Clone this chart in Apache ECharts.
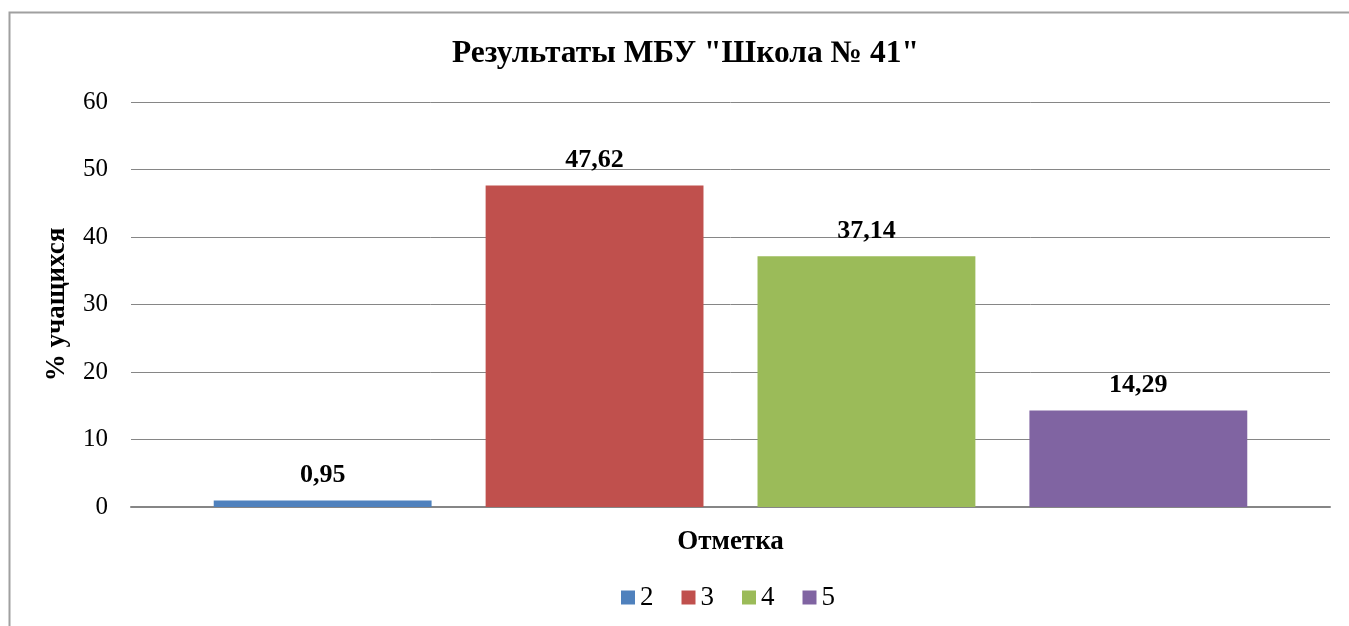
<!DOCTYPE html>
<html><head><meta charset="utf-8">
<script src="https://cdn.jsdelivr.net/npm/echarts@6/dist/echarts.min.js"></script>
<style>html,body{margin:0;padding:0;background:#fff;}#c{width:1349px;height:626px;}</style>
</head><body><div id="c"></div>
<script>
const categories = [''];
const seriesNames = ['2', '3', '4', '5'];
const seriesValues = [[0.95], [47.62], [37.14], [14.29]];
const seriesColors = ['#4F81BD', '#C0504D', '#9BBB59', '#8064A2'];
const yTicks = {min: 0, max: 60, interval: 10};

const font = 'Liberation Serif, Times New Roman, serif';
const chart = echarts.init(document.getElementById('c'));
chart.setOption({
  backgroundColor: '#fff',
  animation: false,
  graphic: [{type: 'rect', shape: {x: 9.5, y: 12.5, width: 1400, height: 700},
    style: {fill: 'none', stroke: '#a0a0a0', lineWidth: 2}, silent: true, z: -1}],
  title: {text: 'Результаты МБУ "Школа № 41"', left: 447, top: 33,
    textStyle: {fontFamily: font, fontSize: 31.5, fontWeight: 'bold', color: '#000'}},
  grid: {left: 131, right: 19, top: 102, bottom: 119},
  legend: {bottom: 10, left: 616, itemWidth: 14, itemHeight: 14, itemGap: 28,
    icon: 'rect', textStyle: {fontFamily: font, fontSize: 27, color: '#000'},
    data: seriesNames},
  xAxis: {type: 'category', data: categories, name: 'Отметка', nameLocation: 'middle', nameGap: 22,
    nameTextStyle: {fontFamily: font, fontSize: 27, fontWeight: 'bold', color: '#000'},
    axisLine: {lineStyle: {color: '#868686', width: 2}}, axisTick: {show: false}, axisLabel: {show: false}},
  yAxis: {type: 'value', min: yTicks.min, max: yTicks.max, interval: yTicks.interval,
    name: '% учащихся', nameLocation: 'middle', nameGap: 60,
    nameTextStyle: {fontFamily: font, fontSize: 27, fontWeight: 'bold', color: '#000'},
    axisLine: {show: false}, axisTick: {show: false},
    axisLabel: {fontFamily: font, fontSize: 25, color: '#000', margin: 23},
    splitLine: {lineStyle: {color: '#868686', width: 1}}},
  series: seriesNames.map((n, i) => ({
    name: n, type: 'bar', data: seriesValues[i],
    barCategoryGap: '13.8%', barGap: '24.8%',
    itemStyle: {color: seriesColors[i]},
    label: {show: true, position: 'top', distance: 12,
      fontFamily: font, fontSize: 26, fontWeight: 'bold', color: '#000',
      formatter: p => String(p.value).replace('.', ',')}
  }))
});
</script></body></html>
